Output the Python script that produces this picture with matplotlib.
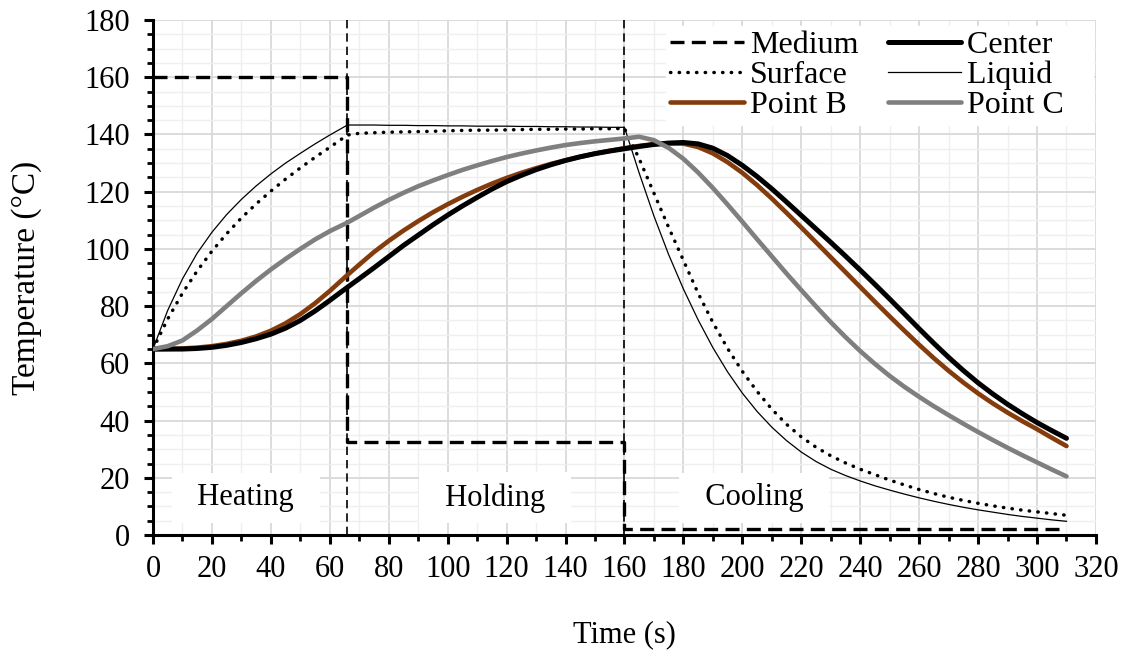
import matplotlib.pyplot as plt
from matplotlib.ticker import MultipleLocator

plt.rcParams['font.family'] = ['Liberation Serif', 'DejaVu Serif']
plt.rcParams['font.size'] = 22

# time points (s)
t = [0, 5, 10, 15, 20, 25, 30, 35, 40, 45, 50, 55, 60, 66,
     70, 75, 80, 85, 90, 95, 100, 105, 110, 115, 120, 125, 130, 135, 140, 145, 150, 155, 160,
     165, 170, 175, 180, 185, 190, 195, 200, 205, 210, 215, 220, 225, 230, 235, 240,
     245, 250, 255, 260, 265, 270, 275, 280, 285, 290, 295, 300, 305, 310]

liquid = [65, 78.5, 89.5, 98.5, 105.8, 112, 117.3, 122, 126.2, 130, 133.4, 136.7, 139.8, 143.3,
          143.3, 143.3, 143.2, 143.2, 143.1, 143.1, 143.0, 143.0, 142.9, 142.9, 142.9, 142.8,
          142.8, 142.7, 142.7, 142.6, 142.6, 142.5, 142.5,
          126.5, 111.5, 98, 86, 75.2, 65.5, 57, 49.6, 43.2, 37.7, 33.0, 29.0, 25.7, 23.0, 20.8, 18.9,
          17.2, 15.7, 14.3, 13, 11.8, 10.7, 9.7, 8.8, 8, 7.2, 6.5, 5.9, 5.3, 4.8]

surface = [65, 75.5, 84.5, 92.3, 99.2, 105.3, 110.8, 115.7, 120.2, 124.4, 128.3, 132, 135.5, 139.8,
           140.4, 140.6, 140.8, 140.9, 141.0, 141.1, 141.3, 141.4, 141.5, 141.5, 141.6, 141.7,
           141.8, 141.8, 141.9, 141.9, 142.0, 142.0, 142.1,
           131.5, 119.5, 107.5, 96, 84.5, 74.3, 65.2, 57.2, 50.2, 44.0, 38.7, 34.3, 30.7, 27.7, 25.2, 23.0,
           21.1, 19.2, 17.5, 15.9, 14.5, 13.2, 12.1, 11.1, 10.2, 9.4, 8.7, 8.1, 7.5, 6.9]

center = [65, 65, 65, 65.2, 65.6, 66.3, 67.3, 68.6, 70.2, 72.3, 75, 78.3, 82.0, 86.6,
          89.6, 93.4, 97.3, 101.2, 104.8, 108.4, 111.8, 115, 118, 120.9, 123.5, 125.7,
          127.7, 129.4, 130.9, 132.2, 133.3, 134.2, 135,
          135.8, 136.5, 137.0, 137.2, 136.7, 135.2, 132.6, 129.2, 125.3, 121.0, 116.4, 111.7,
          107.0, 102.3, 97.5, 92.6, 87.6, 82.5, 77.3, 72.1, 67.0, 62.1, 57.5, 53.2, 49.3, 45.7,
          42.4, 39.3, 36.5, 33.8]

point_b = [65, 65.05, 65.2, 65.5, 66.0, 66.8, 67.9, 69.4, 71.4, 74.0, 77.2, 81.0, 85.3, 90.9,
           94.5, 98.9, 102.8, 106.4, 109.7, 112.8, 115.6, 118.2, 120.6, 122.8, 124.8, 126.6,
           128.2, 129.7, 131, 132.2, 133.3, 134.3, 135.2,
           136, 136.6, 136.9, 136.8, 135.6, 133.4, 130.3, 126.6, 122.3, 117.6, 112.6, 107.5,
           102.3, 97.1, 91.9, 86.7, 81.5, 76.4, 71.4, 66.5, 61.8, 57.4, 53.3, 49.5, 46.0, 42.8,
           39.8, 37.0, 34.0, 31.1]

point_c = [65, 66, 68, 71.5, 75.5, 80, 84.5, 88.8, 92.8, 96.5, 100, 103.3, 106.2, 109.2,
           111.5, 114.4, 117.1, 119.6, 121.9, 123.9, 125.8, 127.6, 129.2, 130.7, 132.1, 133.3,
           134.4, 135.4, 136.3, 137.0, 137.6, 138.1, 138.6,
           139.2, 138.0, 135.3, 131.5, 126.7, 121.3, 115.5, 109.5, 103.4, 97.4, 91.4, 85.6,
           79.9, 74.4, 69.2, 64.3, 59.8, 55.6, 51.8, 48.3, 45.0, 41.9, 38.9, 36.0, 33.2, 30.5,
           27.9, 25.4, 22.9, 20.5]

# heating medium set-points
t_medium = [0, 66, 66, 160, 160, 310]
medium = [160, 160, 32.5, 32.5, 2, 2]

phase_edges = [66, 160]
phase_labels = ['Heating', 'Holding', 'Cooling']
phase_text_x = [31.5, 116, 204]

fig = plt.figure(figsize=(11.28, 6.52), dpi=100)
ax = fig.add_axes([0.1356, 0.1794, 0.836, 0.7899])

for xe in phase_edges:
    ax.axvline(xe, color='black', lw=1.2, ls=(0, (5, 3)), zorder=3)

m_line, = ax.plot(t_medium, medium, color='black', lw=2.4, ls=(0, (4.2, 2.2)),
                  label='Medium', zorder=4)
s_line, = ax.plot(t, surface, color='black', lw=2.5, ls=(0, (0.1, 2.4)),
                  dash_capstyle='round', label='Surface', zorder=4)
b_line, = ax.plot(t, point_b, color='#843c0c', lw=3.3, label='Point B', zorder=4,
                  solid_capstyle='round', solid_joinstyle='round')
# trailing spaces keep the legend box wide on the right
c_line, = ax.plot(t, center, color='black', lw=3.6, label='Center   ', zorder=4,
                  solid_capstyle='round', solid_joinstyle='round')
l_line, = ax.plot(t, liquid, color='black', lw=0.9, label='Liquid   ', zorder=4)
g_line, = ax.plot(t, point_c, color='#7f7f7f', lw=3.3, label='Point C   ', zorder=5,
                  solid_capstyle='round', solid_joinstyle='round')

for lab, xt in zip(phase_labels, phase_text_x):
    ax.text(xt, 13, '  ' + lab + '  ', ha='center', va='center', zorder=3.5,
            bbox=dict(boxstyle='square,pad=0.35', facecolor='white', edgecolor='none'))

ax.set_xlim(0, 320)
ax.set_ylim(0, 180)
ax.xaxis.set_major_locator(MultipleLocator(20))
ax.xaxis.set_minor_locator(MultipleLocator(10))
ax.yaxis.set_major_locator(MultipleLocator(20))
ax.yaxis.set_minor_locator(MultipleLocator(5))

ax.set_axisbelow(True)
ax.grid(which='major', color='#d9d9d9', lw=1.3)
ax.grid(which='minor', color='#efefef', lw=1.0)

for side in ['top', 'right']:
    ax.spines[side].set_visible(False)
for side in ['left', 'bottom']:
    ax.spines[side].set_linewidth(2.2)

ax.tick_params(which='major', direction='out', length=6.5, width=2.2)
ax.tick_params(which='minor', direction='out', length=4.5, width=2.0)
ax.tick_params(axis='x', which='major', pad=8)
ax.tick_params(axis='y', which='major', pad=10)

ax.set_xlabel('Time (s)')
ax.set_ylabel('Temperature (°C)', fontsize=24)
ax.xaxis.set_label_coords(0.5, -0.165)
ax.yaxis.set_label_coords(-0.118, 0.5)

leg = ax.legend(handles=[m_line, s_line, b_line, c_line, l_line, g_line],
                ncol=2, loc='upper right', bbox_to_anchor=(0.997, 0.988),
                frameon=True, fancybox=False, framealpha=1, edgecolor='white',
                fontsize=23, handlelength=2.3, handletextpad=0.2, columnspacing=0.9,
                labelspacing=0.02, borderpad=0.15, borderaxespad=0.0)
leg.set_zorder(10)

fig.savefig('out.png', dpi=100)
